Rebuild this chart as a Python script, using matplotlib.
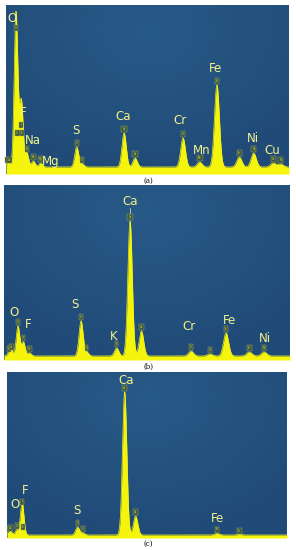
import numpy as np
import matplotlib.pyplot as plt
from matplotlib.colors import LinearSegmentedColormap

# peak tables: energy (keV), symbol, height above background
a_energy = [0.277, 0.341, 0.525, 0.573, 0.677, 0.705, 0.851, 1.041, 1.254,
            2.307, 2.464, 3.691, 4.013, 5.414, 5.899, 6.404, 7.058, 7.478, 8.048, 8.265]
a_symbol = ['C', 'Ca', 'O', 'Cr', 'F', 'Fe', 'Ni', 'Na', 'Mg',
            'S', 'S', 'Ca', 'Ca', 'Cr', 'Mn', 'Fe', 'Fe', 'Ni', 'Cu', 'Ni']
a_height = [3, 3, 135, 30, 38, 30, 14, 6, 4,
            20, 3, 34, 9, 29, 5, 82, 10, 14, 4, 3]
a_background = 7

b_energy = [0.277, 0.341, 0.525, 0.677, 0.851, 2.307, 2.464, 3.313, 3.691,
            4.013, 5.414, 5.947, 6.404, 7.058, 7.478]
b_symbol = ['C', 'Ca', 'O', 'F', 'Ni', 'S', 'S', 'K', 'Ca',
            'Ca', 'Cr', 'Cr', 'Fe', 'Fe', 'Ni']
b_height = [3, 5, 30, 14, 3, 35, 4, 8, 135,
            25, 5, 2, 23, 4, 4]
b_background = 4

c_energy = [0.277, 0.341, 0.525, 0.677, 0.705, 2.307, 2.464, 3.691, 4.013, 6.404, 7.058]
c_symbol = ['C', 'Ca', 'O', 'F', 'Fe', 'S', 'S', 'Ca', 'Ca', 'Fe', 'Fe']
c_height = [2, 3, 5, 29, 4, 8, 2, 143, 19, 1.5, 0.5]
c_background = 3

# element labels: text, energy, height
a_labels = [('O', 0.415, 155), ('F', 0.75, 61), ('Na', 1.02, 33), ('Mg', 1.56, 12),
            ('S', 2.29, 44), ('Ca', 3.67, 57), ('Cr', 5.33, 53), ('Mn', 5.96, 24),
            ('Fe', 6.36, 106), ('Ni', 7.45, 36), ('Cu', 8.03, 24)]
b_labels = [('O', 0.415, 48), ('F', 0.80, 36), ('S', 2.14, 56), ('K', 3.22, 23),
            ('Ca', 3.69, 159), ('Cr', 5.35, 33), ('Fe', 6.50, 40), ('Ni', 7.49, 21)]
c_labels = [('O', 0.46, 33), ('F', 0.775, 48), ('S', 2.28, 27), ('Ca', 3.72, 157),
            ('Fe', 6.41, 20)]

W, H = 296, 550
YELLOW = '#f4f40c'
LABEL = '#f2f28c'
bg_cmap = LinearSegmentedColormap.from_list('bg', ['#285a87', '#204a77'])


def fwhm_sigma(e):
    fwhm = np.sqrt(165.0 ** 2 + 2.49 * (e * 1000 - 5895))
    return fwhm / 2.355 / 1000


def panel(box, xlim, ylim, energy, symbol, height, background, labels, caption, cap_y):
    l, t, r, b = box
    ax = plt.gcf().add_axes([l / W, 1 - b / H, (r - l) / W, (b - t) / H])
    gx, gy = np.meshgrid(np.linspace(0, 1, 200), np.linspace(0, 1, 200))
    dist = np.sqrt(((gx - 0.5) / 0.8) ** 2 + ((gy - 0.15) / 1.0) ** 2)
    ax.imshow(dist, cmap=bg_cmap, extent=[0, 1, 0, 1], transform=ax.transAxes,
              aspect='auto', origin='upper', vmin=0.0, vmax=0.9, zorder=0)

    E = np.linspace(xlim[0], xlim[1], 3000)
    y = np.full_like(E, background, dtype=float)
    for e, h in zip(energy, height):
        s = fwhm_sigma(e)
        y += h * np.exp(-0.5 * ((E - e) / s) ** 2)
    ax.fill_between(E, 0, y, color=YELLOW, lw=0, zorder=2)
    ax.plot(E, y, color=YELLOW, lw=0.5, zorder=2)

    for e, sym, h in zip(energy, symbol, height):
        ax.text(e, background + h + 2, sym, fontsize=1.8, color='#d8d860',
                ha='center', va='bottom', zorder=4,
                bbox=dict(boxstyle='square,pad=0.4', fc='#3c5a3a',
                          ec='#a8b070', lw=0.3))

    for txt, e, yy in labels:
        ax.text(e, yy, txt, fontsize=8.5, color=LABEL, ha='center', va='center',
                zorder=5, family='DejaVu Sans')

    ax.set_xlim(*xlim)
    ax.set_ylim(*ylim)
    ax.set_xticks([])
    ax.set_yticks([])
    for sp in ax.spines.values():
        sp.set_visible(False)
    plt.gcf().text(0.5, 1 - cap_y / H, caption, fontsize=5, ha='center',
                   va='center', family='DejaVu Serif')
    return ax


fig = plt.figure(figsize=(W / 100, H / 100), dpi=100)
fig.patch.set_facecolor('white')

panel((6, 5, 289, 174), (0.24, 8.51), (0, 169), a_energy, a_symbol, a_height,
      a_background, a_labels, '(a)', 181)
ax_b = panel((4, 185, 290, 360), (0.13, 8.21), (0, 175), b_energy, b_symbol, b_height,
             b_background, b_labels, '(b)', 367)
ax_b.plot([3.69, 3.69], [141, 152], color=LABEL, lw=0.5, zorder=3)
panel((7, 372, 287, 538), (0.235, 8.46), (0, 166), c_energy, c_symbol, c_height,
      c_background, c_labels, '(c)', 544)

fig.savefig('out.png', dpi=100)
